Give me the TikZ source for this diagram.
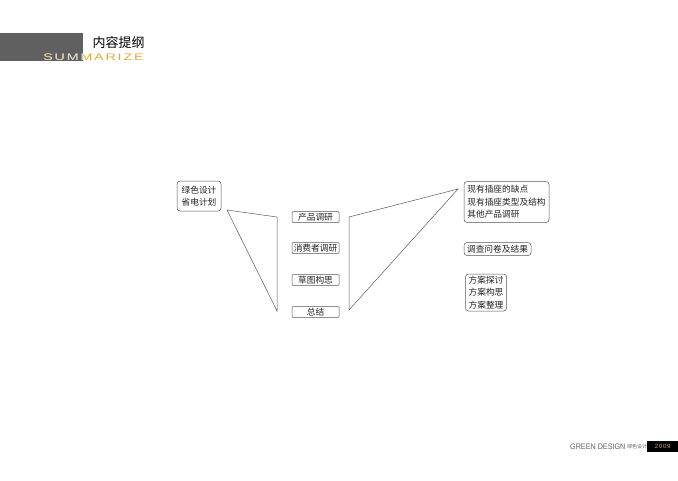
\documentclass[tikz,border=0pt]{standalone}
\usepackage{fontspec}
\setmainfont{Liberation Sans}
\newfontfamily\cjk{Noto Sans CJK SC}
\newfontfamily\widefont[LetterSpace=13]{Liberation Sans}
\definecolor{barc}{RGB}{96,96,96}
\definecolor{goldc}{RGB}{226,172,52}
\definecolor{lightc}{RGB}{215,215,215}
\definecolor{boxline}{RGB}{85,85,85}
\definecolor{connc}{RGB}{90,90,90}
\definecolor{txt}{RGB}{35,35,35}
\definecolor{footc}{RGB}{100,100,100}
\begin{document}
\begin{tikzpicture}[x=1pt,y=-1pt,
  box/.style={draw=boxline, line width=0.5pt, inner sep=0pt, text=txt,
    font=\cjk\fontsize{8.7}{12.5}\selectfont},
  midbox/.style={box, minimum width=47pt, minimum height=11pt, rounded corners=1pt},
  roundbox/.style={box, rounded corners=3pt, align=center},
  conn/.style={draw=connc, line width=0.5pt, line join=miter},
  summ/.style={anchor=west, inner sep=0pt, xscale=1.5,
    font=\widefont\fontsize{9.5}{9.5}\selectfont}]
\useasboundingbox (0,0) rectangle (678,480);
\fill[white] (0,0) rectangle (678,480);

% header
\node[fill=barc, anchor=north west, minimum width=83pt, minimum height=28pt, inner sep=0pt] (bar) at (0,33) {};
\node[inner sep=0pt, text=black, font=\cjk\fontsize{13}{13}\selectfont] (title) at (118.5,42.5) {内容提纲};
\node[summ, text=goldc] (summgold) at (43,57) {SUMMARIZE};
\begin{scope}
  \clip (bar.north west) rectangle (bar.south east);
  \node[summ, text=lightc] (summgray) at (43,57) {SUMMARIZE};
\end{scope}

% left box
\node[roundbox, minimum width=44pt, minimum height=30pt] (green) at (199,196) {绿色设计\\省电计划};

% middle boxes
\node[midbox] (research) at (315.5,217) {产品调研};
\node[midbox] (consumer) at (315.5,248) {消费者调研};
\node[midbox] (sketch) at (315.5,280) {草图构思};
\node[midbox] (summary) at (315.5,312) {总结};

% right boxes
\node[roundbox, align=left, minimum width=85pt, minimum height=41pt] (defects) at (506.5,202)
  {现有插座的缺点\\现有插座类型及结构\\其他产品调研};
\node[roundbox, minimum width=67pt, minimum height=13pt] (survey) at (497.5,249) {调查问卷及结果};
\node[roundbox, minimum width=41pt, minimum height=37pt] (plan) at (486,292.5)
  {方案探讨\\方案构思\\方案整理};

% connectors (triangles)
\coordinate (l1) at (227,210);
\coordinate (l2) at (277,217);
\coordinate (l3) at (277,311);
\draw[conn] (l1) -- (l2) -- (l3) -- cycle;
\coordinate (r1) at (349,217);
\coordinate (r2) at (458,189);
\coordinate (r3) at (349,310);
\draw[conn] (r1) -- (r2) -- (r3) -- cycle;

% footer
\node[anchor=west, inner sep=0pt, xscale=0.9, text=footc, font=\fontsize{8}{8}\selectfont] (gd) at (570,446.5) {GREEN DESIGN};
\node[anchor=west, inner sep=0pt, text=footc, font=\cjk\fontsize{5}{5}\selectfont] (gdcn) at (627,446.5) {绿色设计};
\node[fill=black, anchor=west, minimum width=31pt, minimum height=11pt, inner sep=0pt, text=goldc,
  font=\widefont\fontsize{6}{6}\selectfont] (year) at (647,446.5) {2009};
\end{tikzpicture}
\end{document}
